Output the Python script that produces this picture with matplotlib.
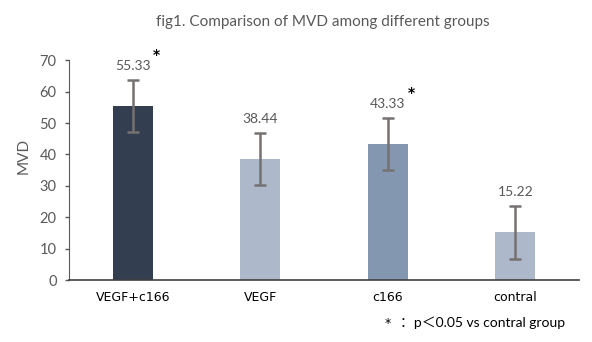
import numpy as np
import matplotlib.pyplot as plt

groups = ["VEGF+c166", "VEGF", "c166", "contral"]
mvd = [55.33, 38.44, 43.33, 15.22]
sd = [8.3, 8.3, 8.3, 8.4]
signif = [True, False, True, False]
bar_colors = ["#333f50", "#adb9ca", "#8497b0", "#adb9ca"]

plt.rcParams['font.family'] = ['Lato', 'DejaVu Sans']
grey = "#595959"

fig = plt.figure(figsize=(5.92, 3.42), dpi=100)
ax = fig.add_axes([0.1166, 0.181, 0.8615, 0.643])

x = np.arange(len(groups))
ax.bar(x, mvd, width=0.314, color=bar_colors, zorder=2)
ax.errorbar(x, mvd, yerr=sd, fmt="none", ecolor="#767171", elinewidth=1.8,
            capsize=4, capthick=1.8, zorder=3)

# value labels above the error bars, star for significant groups
for xi, m, s, star in zip(x, mvd, sd, signif):
    ax.annotate(f"{m:.2f}", (xi, m + s), xytext=(0, 6), textcoords="offset points",
                ha="center", va="bottom", fontsize=10, color=grey)
    if star:
        ax.annotate("*", (xi, m + s), xytext=(17, 18), textcoords="offset points",
                    ha="center", va="center", fontsize=10, fontweight="bold",
                    color="black", family=['DejaVu Sans'])

ax.set_xlim(-0.5, 3.5)
ax.set_ylim(0, 70)
ax.set_yticks(range(0, 71, 10))
ax.tick_params(axis="y", labelsize=10.5, labelcolor=grey, color=grey, length=3,
               width=1, pad=6)
ax.tick_params(axis="x", length=0, pad=8)
ax.set_xticks(x)
ax.set_xticklabels(groups, fontsize=9, family=['DejaVu Sans'])
for spine in ["top", "right"]:
    ax.spines[spine].set_visible(False)
ax.spines["left"].set_color(grey)
ax.spines["bottom"].set_color("#404040")
ax.spines["bottom"].set_linewidth(1.2)

ax.set_ylabel("MVD", fontsize=11, color=grey)
ax.yaxis.set_label_coords(-0.076, 0.566)
fig.text(0.545, 0.936, "fig1. Comparison of MVD among different groups",
         ha="center", va="center", fontsize=11, color=grey)

# footnote
fig.text(0.65, 0.055, "*", ha="left", va="center", fontsize=9, color="black",
         family=['DejaVu Sans'])
fig.text(0.675, 0.055, "：p\uff1c0.05 vs contral group", ha="left", va="center",
         fontsize=10, color="black", family=['Lato', 'Noto Sans CJK SC'])

fig.savefig("out.png", dpi=100)
